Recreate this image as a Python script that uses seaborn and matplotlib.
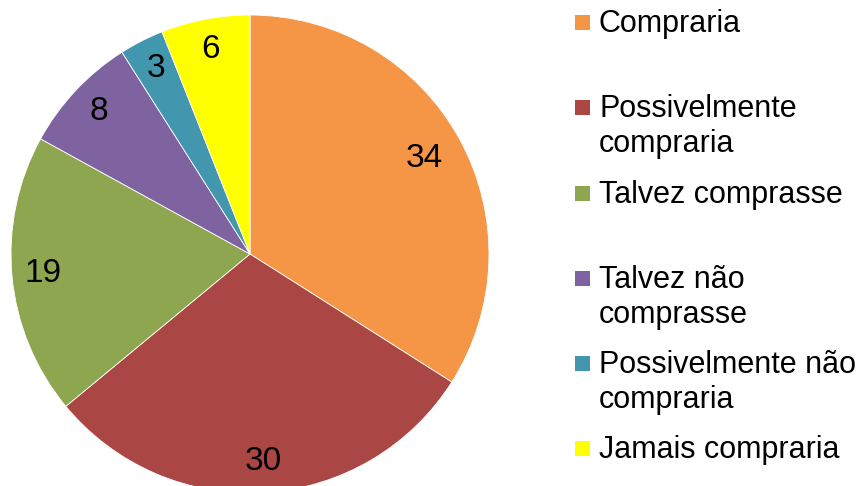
import matplotlib
matplotlib.use("Agg")
import matplotlib.pyplot as plt
from matplotlib.patches import Rectangle
import seaborn as sns

# data
categories = ["Compraria", "Possivelmente\ncompraria", "Talvez comprasse",
              "Talvez não\ncomprasse", "Possivelmente não\ncompraria", "Jamais compraria"]
values = [34, 30, 19, 8, 3, 6]
colors = ["#F59647", "#AA4643", "#8DA64F", "#7F62A0", "#4297AE", "#FFFF00"]

# legend row positions (first baseline of each entry, in px from top)
legend_baselines = [32, 117, 203, 288, 373, 458]

sns.set_style("white")
plt.rcParams["font.family"] = ["Liberation Sans", "DejaVu Sans"]

W, H, DPI = 857, 486, 100
fig = plt.figure(figsize=(W / DPI, H / DPI), dpi=DPI)
ax = fig.add_axes([0, 0, 1, 1])

cx, cy, r = 250, 254, 239  # pie centre and radius in pixels
wedges, texts = ax.pie(values, colors=colors, startangle=90, counterclock=False,
                       labels=[str(v) for v in values], labeldistance=0.87,
                       textprops=dict(fontsize=24, color="black"),
                       wedgeprops=dict(edgecolor="white", linewidth=0.6))
for t in texts:
    t.set_ha("center")
    t.set_va("center")
# the biggest slice has its label a bit further in
x0, y0 = texts[0].get_position()
texts[0].set_position((x0 * 0.83 / 0.87, y0 * 0.83 / 0.87))

ax.set_xlim(-cx / r, (W - cx) / r)
ax.set_ylim(-(H - cy) / r, cy / r)
ax.set_aspect("auto")
ax.axis("off")


def fx(px):
    return px / W


def fy(py):
    return 1 - py / H


line_gap = 35
for label, col, base in zip(categories, colors, legend_baselines):
    fig.patches.append(Rectangle((fx(575), fy(base - 2)), 15 / W, 15 / H,
                                 transform=fig.transFigure, facecolor=col,
                                 edgecolor="none"))
    for i, line in enumerate(label.split("\n")):
        fig.text(fx(599), fy(base + i * line_gap), line, fontsize=22,
                 ha="left", va="baseline", color="black")

fig.savefig("out.png", dpi=DPI)
